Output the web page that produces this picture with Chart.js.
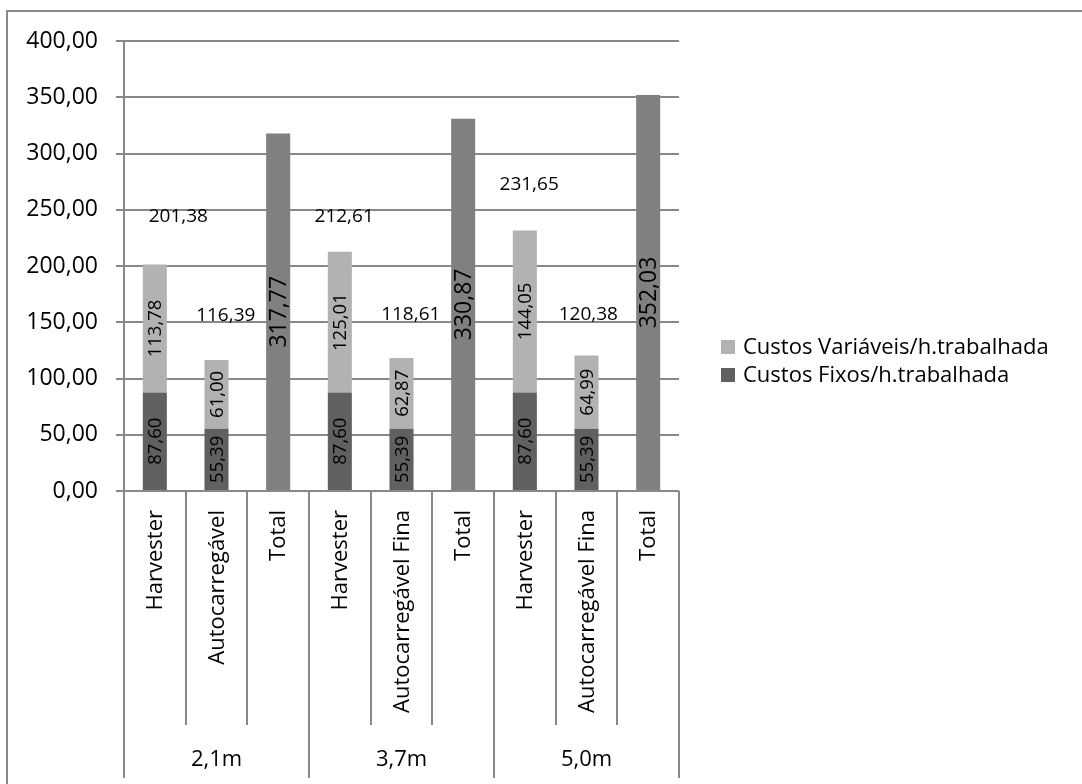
<!DOCTYPE html>
<html>
<head>
<meta charset="utf-8">
<script src="https://cdn.jsdelivr.net/npm/chart.js@4.4.1/dist/chart.umd.min.js"></script>
<style>
    body { margin: 0; background: #fff; }
    #wrap { width: 1082px; height: 784px; }
</style>
</head>
<body>
<div id="wrap"><canvas id="custos" width="1082" height="784"></canvas></div>
<script>
// categorias (nivel 1) e grupos (nivel 2)
const categorias = ['Harvester', 'Autocarregável', 'Total', 'Harvester', 'Autocarregável Fina', 'Total', 'Harvester', 'Autocarregável Fina', 'Total'];
const grupos = ['2,1m', '3,7m', '5,0m'];
const custosFixos = [87.60, 55.39, null, 87.60, 55.39, null, 87.60, 55.39, null];
const custosVariaveis = [113.78, 61.00, null, 125.01, 62.87, null, 144.05, 64.99, null];
const custoTotal = [null, null, 317.77, null, null, 330.87, null, null, 352.03];
const somaLabels = [201.38, 116.39, null, 212.61, 118.61, null, 231.65, 120.38, null];
const legendas = ['Custos Variáveis/h.trabalhada', 'Custos Fixos/h.trabalhada'];
const yMax = 400;
const yStep = 50;

// onde ficam os rótulos de soma (deslocamento na categoria, valor no eixo)
const somaLabelPos = [[0.38, 244], [0.15, 156], null, [0.07, 244], [0.15, 157], null, [0.07, 272], [0.03, 157], null];

const FONTE = "'Open Sans', sans-serif";
const corEscura = '#606060';
const corClara = '#b2b2b2';
const corTotal = '#808080';
const corLinha = '#888888';

function fmt(v) {
    return v.toFixed(2).replace('.', ',');
}

const rotulosPlugin = {
    id: 'rotulos',
    beforeDraw(chart) {
        const ctx = chart.ctx;
        ctx.save();
        ctx.strokeStyle = corLinha;
        ctx.lineWidth = 2;
        ctx.strokeRect(7, 11, 2000, 2000);
        ctx.restore();
    },
    afterDatasetsDraw(chart) {
        const ctx = chart.ctx;
        const x = chart.scales.x;
        const y = chart.scales.y;
        ctx.save();
        ctx.fillStyle = '#000';
        // rotulos dentro das barras
        chart.data.datasets.forEach((ds, di) => {
            const meta = chart.getDatasetMeta(di);
            meta.data.forEach((bar, i) => {
                const v = ds.data[i];
                if (v == null) return;
                const cy = (bar.y + bar.base) / 2;
                ctx.save();
                ctx.translate(bar.x, cy);
                ctx.rotate(-Math.PI / 2);
                ctx.font = (di == 2 ? '23px ' : '18.5px ') + FONTE;
                ctx.textAlign = 'center';
                ctx.textBaseline = 'middle';
                ctx.fillText(fmt(v), 0, 1);
                ctx.restore();
            });
        });
        // rotulos de soma
        ctx.font = '19px ' + FONTE;
        ctx.textAlign = 'center';
        ctx.textBaseline = 'middle';
        const largura = x.getPixelForValue(1) - x.getPixelForValue(0);
        somaLabels.forEach((s, i) => {
            if (s == null) return;
            const pos = somaLabelPos[i];
            ctx.fillText(fmt(s), x.getPixelForValue(i) + pos[0] * largura, y.getPixelForValue(pos[1]));
        });
        ctx.restore();
    },
    afterDraw(chart) {
        const ctx = chart.ctx;
        const x = chart.scales.x;
        const area = chart.chartArea;
        const largura = x.getPixelForValue(1) - x.getPixelForValue(0);
        const fimInterno = area.bottom + 234;
        const fimGrupo = area.bottom + 287;
        ctx.save();
        ctx.strokeStyle = corLinha;
        ctx.lineWidth = 2;
        ctx.beginPath();
        for (let i = 0; i <= categorias.length; i++) {
            const px = Math.round(area.left + i * largura);
            ctx.moveTo(px, area.bottom);
            ctx.lineTo(px, i % 3 == 0 ? fimGrupo : fimInterno);
        }
        ctx.stroke();

        ctx.fillStyle = '#000';
        ctx.font = '22px ' + FONTE;
        categorias.forEach((c, i) => {
            ctx.save();
            ctx.translate(x.getPixelForValue(i) + 1, area.bottom + 19);
            ctx.rotate(-Math.PI / 2);
            ctx.textAlign = 'right';
            ctx.textBaseline = 'middle';
            ctx.fillText(c, 0, 0);
            ctx.restore();
        });
        ctx.textAlign = 'center';
        ctx.textBaseline = 'middle';
        grupos.forEach((g, gi) => {
            ctx.fillText(g, x.getPixelForValue(gi * 3 + 1), area.bottom + 269);
        });

        // legenda
        const cores = [corClara, corEscura];
        ctx.textAlign = 'left';
        legendas.forEach((l, li) => {
            const ly = 347 + li * 28;
            ctx.fillStyle = cores[li];
            ctx.fillRect(721, ly - 7, 14, 14);
            ctx.fillStyle = '#000';
            ctx.fillText(l, 743, ly + 1);
        });
        ctx.restore();
    }
};

new Chart(document.getElementById('custos'), {
    type: 'bar',
    data: {
        labels: categorias,
        datasets: [
            { label: legendas[1], data: custosFixos, backgroundColor: corEscura },
            { label: legendas[0], data: custosVariaveis, backgroundColor: corClara },
            { label: 'Total', data: custoTotal, backgroundColor: corTotal }
        ]
    },
    options: {
        responsive: false,
        animation: false,
        events: [],
        datasets: {
            bar: { categoryPercentage: 1, barPercentage: 0.39, skipNull: false }
        },
        layout: { padding: { top: 41, right: 403, left: 0, bottom: 0 } },
        plugins: { legend: { display: false }, tooltip: { enabled: false } },
        scales: {
            x: {
                stacked: true,
                grid: { display: false },
                border: { display: false },
                ticks: { display: false },
                afterFit: function (scale) { scale.height = 293; }
            },
            y: {
                stacked: true,
                min: 0,
                max: yMax,
                grid: { color: corLinha, lineWidth: 2, tickLength: 8 },
                border: { display: true, color: corLinha, width: 2 },
                ticks: {
                    stepSize: yStep,
                    padding: 18,
                    color: '#000',
                    font: { family: FONTE, size: 23 },
                    callback: function (v) { return fmt(v); }
                },
                afterFit: function (scale) { scale.width = 124; }
            }
        }
    },
    plugins: [rotulosPlugin]
});
</script>
</body>
</html>
